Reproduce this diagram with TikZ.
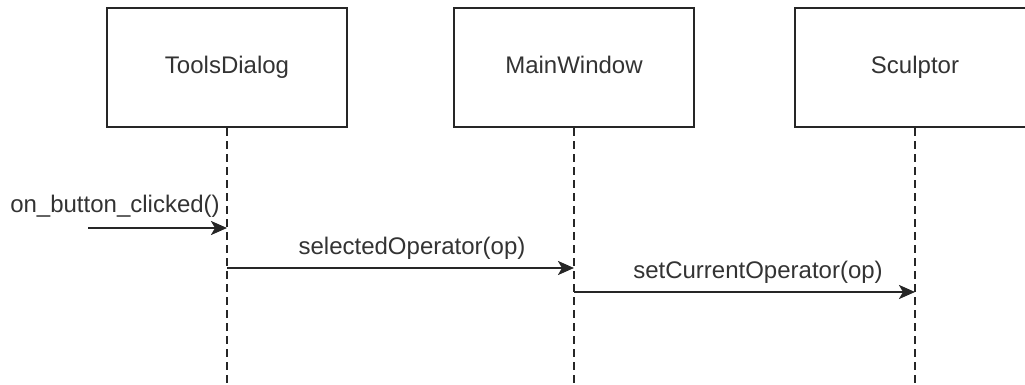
\documentclass[tikz,border=0pt]{standalone}
\usepackage{fontspec}
\setmainfont{Liberation Sans}
\usetikzlibrary{arrows.meta}
\begin{document}
\begin{tikzpicture}[x=1pt,y=-1pt,
  every node/.style={font=\fontsize{24}{28}\selectfont, text=black!80},
  actor/.style={draw=black!85, line width=2.4pt, minimum width=240pt, minimum height=119pt,
    inner sep=0pt, text height=17pt, text depth=5pt},
  lifeline/.style={draw=black!85, line width=2.4pt, dash pattern=on 8pt off 5pt},
  msg/.style={draw=black!85, line width=2.4pt, -{Stealth[length=16pt,width=14pt,inset=4pt]}},
  lbl/.style={inner sep=0pt, anchor=center}]
  \useasboundingbox (0,0) rectangle (1025,385);
  % participants
  \node[actor] (td) at (227,67.5) {ToolsDialog};
  \node[actor] (mw) at (574,67.5) {MainWindow};
  \node[actor] (sc) at (915,67.5) {Sculptor};
  % lifeline ends
  \coordinate (tdend) at (227,385);
  \coordinate (mwend) at (574,385);
  \coordinate (scend) at (915,385);
  \draw[lifeline] (td.south) -- (tdend);
  \draw[lifeline] (mw.south) -- (mwend);
  \draw[lifeline] (sc.south) -- (scend);
  % message anchors on the lifelines
  \coordinate (start) at (88,228);
  \coordinate (td1) at (227,228);
  \coordinate (td2) at (227,268);
  \coordinate (mw1) at (574,268);
  \coordinate (mw2) at (574,292);
  \coordinate (sc1) at (915,292);
  % messages
  \draw[msg] (start) -- (td1);
  \draw[msg] (td2) -- (mw1);
  \draw[msg] (mw2) -- (sc1);
  \node[lbl] (l1) at (115,206) {on\_button\_clicked()};
  \node[lbl] (l2) at (412,248) {selectedOperator(op)};
  \node[lbl] (l3) at (758,272) {setCurrentOperator(op)};
\end{tikzpicture}
\end{document}
